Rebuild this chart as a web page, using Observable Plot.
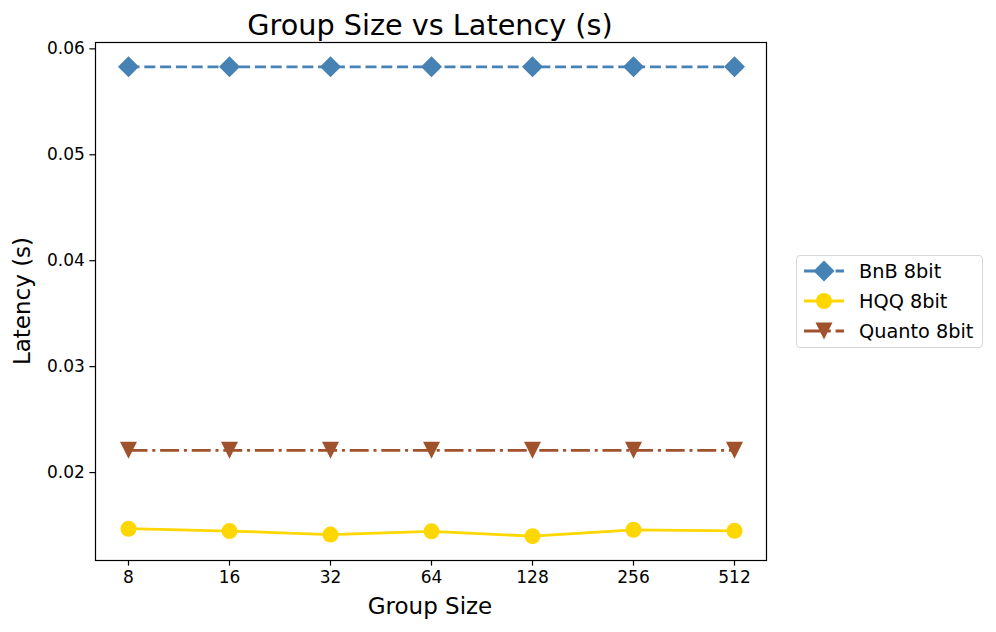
<!DOCTYPE html>
<html>
<head>
<meta charset="utf-8">
<script src="https://cdn.jsdelivr.net/npm/d3@7"></script>
<script src="https://cdn.jsdelivr.net/npm/@observablehq/plot@0.6"></script>
<style>
  html, body { margin: 0; padding: 0; background: #fff; }
  #wrap { position: relative; width: 996px; height: 632px; font-family: "DejaVu Sans", sans-serif; }
  #wrap svg.plot { position: absolute; left: 0; top: 0; }
  .abs { position: absolute; white-space: nowrap; color: #000; }
  #title { left: 430px; top: 25px; transform: translate(-50%, -50%); font-size: 28.7px; }
  #xlabel { left: 430px; top: 606px; transform: translate(-50%, -50%); font-size: 23px; }
  #ylabel { left: 22px; top: 301px; transform: translate(-50%, -50%) rotate(-90deg); font-size: 23px; }
  #legend { left: 796px; top: 255px; width: 187px; height: 93px; border: 1.3px solid #d6d6d6; border-radius: 4px; box-sizing: border-box; background: #fff; }
  .leg-row { position: absolute; left: 0; height: 30px; width: 100%; }
  .leg-row svg { position: absolute; left: 6px; top: 0; }
  .leg-row span { position: absolute; left: 62px; top: 50%; transform: translateY(-50%); font-size: 19.3px; }
</style>
</head>
<body>
<div id="wrap">
  <div id="title" class="abs">Group Size vs Latency (s)</div>
  <div id="xlabel" class="abs">Group Size</div>
  <div id="ylabel" class="abs">Latency (s)</div>
  <div id="legend" class="abs"></div>
</div>
<script>
// ---- data ----
const groupSizes = ["8", "16", "32", "64", "128", "256", "512"];
const seriesNames = ["BnB 8bit", "HQQ 8bit", "Quanto 8bit"];
const bnb = [0.0583, 0.0583, 0.0583, 0.0583, 0.0583, 0.0583, 0.0583];
const hqq = [0.01470, 0.01448, 0.01415, 0.01445, 0.01400, 0.01460, 0.01450];
const quanto = [0.0221, 0.0221, 0.0221, 0.0221, 0.0221, 0.0221, 0.0221];
const yTicks = [0.02, 0.03, 0.04, 0.05, 0.06];

// ---- styles ----
const colors = ["#4682b4", "#ffd700", "#a0522d"];
const dashes = ["11,4.8", null, "19,4.8,3,4.8"];

const diamondSym = { draw(ctx, size) { const h = Math.sqrt(size / Math.PI); ctx.moveTo(0, -h); ctx.lineTo(h, 0); ctx.lineTo(0, h); ctx.lineTo(-h, 0); ctx.closePath(); } };
const circleSym = { draw(ctx, size) { const h = Math.sqrt(size / Math.PI); ctx.moveTo(h, 0); ctx.arc(0, 0, h, 0, 2 * Math.PI); ctx.closePath(); } };
const triDownSym = { draw(ctx, size) { const h = Math.sqrt(size / Math.PI); ctx.moveTo(-h, -h); ctx.lineTo(h, -h); ctx.lineTo(0, h); ctx.closePath(); } };
const symbols = [diamondSym, circleSym, triDownSym];
const radii = [10.5, 8, 8.5];

const allValues = [bnb, hqq, quanto];
const tables = allValues.map((vals, i) => groupSizes.map((g, j) => ({ g, v: vals[j], s: seriesNames[i] })));

const marks = [];
tables.forEach((t, i) => {
  marks.push(Plot.line(t, { x: "g", y: "v", stroke: colors[i], strokeWidth: 2.8, strokeDasharray: dashes[i] || undefined, strokeLinecap: "butt" }));
});
tables.forEach((t, i) => {
  marks.push(Plot.dot(t, { x: "g", y: "v", fill: colors[i], stroke: "none", r: radii[i], symbol: symbols[i] }));
});
marks.push(Plot.frame({ stroke: "#000", strokeWidth: 1.2 }));
marks.push(Plot.axisX({ tickSize: 5.6, tickPadding: 5, fontSize: 17, label: null, stroke: "#000", strokeWidth: 1.2 }));
marks.push(Plot.axisY({ ticks: yTicks, tickFormat: d3.format(".2f"), tickSize: 5.6, tickPadding: 5, fontSize: 17, label: null, stroke: "#000", strokeWidth: 1.2 }));

const chart = Plot.plot({
  width: 996,
  height: 632,
  marginLeft: 95,
  marginRight: 230,
  marginTop: 42,
  marginBottom: 72,
  style: { fontFamily: "DejaVu Sans, sans-serif", color: "#000", background: "transparent", overflow: "visible" },
  x: { type: "point", domain: groupSizes, padding: 0.3 },
  y: { domain: [0.0117, 0.0606] },
  marks
});
chart.classList.add("plot");
document.getElementById("wrap").prepend(chart);

// ---- legend ----
const legend = document.getElementById("legend");
seriesNames.forEach((name, i) => {
  const row = document.createElement("div");
  row.className = "leg-row";
  row.style.top = (0 + i * 30) + "px";
  const ns = "http://www.w3.org/2000/svg";
  const svg = document.createElementNS(ns, "svg");
  svg.setAttribute("width", 46); svg.setAttribute("height", 30);
  const line = document.createElementNS(ns, "line");
  line.setAttribute("x1", 1); line.setAttribute("x2", 41); line.setAttribute("y1", 15); line.setAttribute("y2", 15);
  line.setAttribute("stroke", colors[i]); line.setAttribute("stroke-width", 2.8);
  if (dashes[i]) line.setAttribute("stroke-dasharray", dashes[i]);
  svg.appendChild(line);
  const p = d3.path();
  symbols[i].draw(p, Math.PI * radii[i] * radii[i]);
  const path = document.createElementNS(ns, "path");
  path.setAttribute("d", p.toString());
  path.setAttribute("transform", "translate(21,15)");
  path.setAttribute("fill", colors[i]);
  svg.appendChild(path);
  row.appendChild(svg);
  const span = document.createElement("span");
  span.textContent = name;
  row.appendChild(span);
  legend.appendChild(row);
});
</script>
</body>
</html>
